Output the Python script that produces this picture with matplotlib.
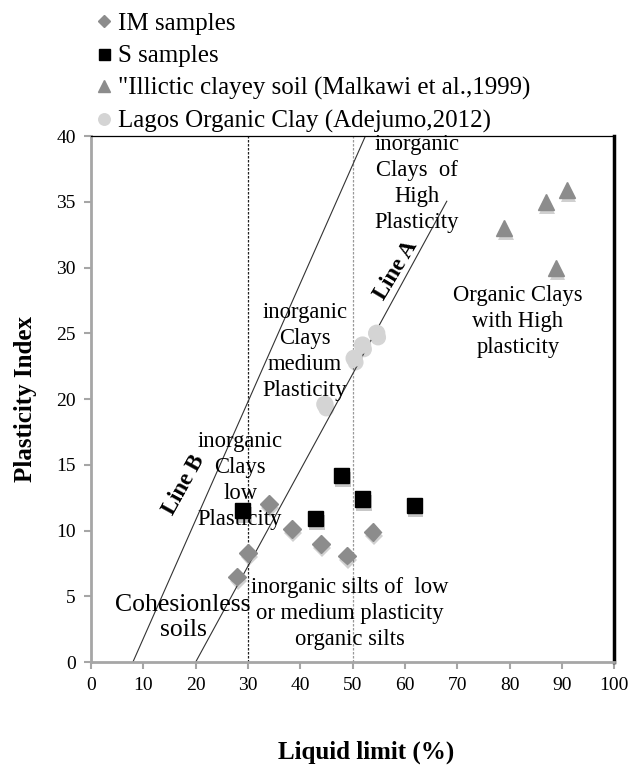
import numpy as np
import matplotlib
matplotlib.use("Agg")
import matplotlib.pyplot as plt
import matplotlib.patheffects as pe
from matplotlib.lines import Line2D

plt.rcParams['font.family'] = ['Liberation Serif', 'DejaVu Serif']

# data
im_ll = [34, 38.4, 30, 27.9, 43.9, 48.9, 53.8]
im_pi = [12.0, 10.1, 8.3, 6.5, 9.0, 8.1, 9.9]

s_ll = [29, 42.9, 47.9, 51.9, 61.8]
s_pi = [11.5, 10.9, 14.2, 12.4, 11.9]

malk_ll = [91, 86.9, 79, 88.9]
malk_pi = [35.9, 35.0, 33.0, 30.0]

lagos_ll = [54.6, 51.9, 50.3, 44.7]
lagos_pi = [25.0, 24.1, 23.1, 19.6]

series_names = ['IM samples', 'S samples',
                '"Illictic clayey soil (Malkawi et al.,1999)',
                'Lagos Organic Clay (Adejumo,2012)']

# chart lines (A-line and U-line style)
lineA_ll = [20, 68]
lineB_ll = [8, 52.4]
lineA_slope = 0.73
lineB_slope = 0.9

xticks = list(range(0, 101, 10))
yticks = list(range(0, 41, 5))

fig = plt.figure(figsize=(6.28, 7.65), dpi=100)
ax = fig.add_axes([0.145, 0.1346, 0.833, 0.6876])

shadow = [pe.SimplePatchShadow(offset=(1, -3), alpha=0.22), pe.Normal()]

# boundary lines
ax.plot([30, 30], [0, 40], color='#222222', lw=0.9, ls=(0, (2, 1.2)), zorder=1)
ax.plot([50, 50], [0, 40], color='#999999', lw=0.9, ls=(0, (2, 1.2)), zorder=1)
a_x = np.array(lineA_ll)
b_x = np.array(lineB_ll)
ax.plot(a_x, lineA_slope * (a_x - 20), color='#333333', lw=0.8, zorder=2)
ax.plot(b_x, lineB_slope * (b_x - 8), color='#333333', lw=0.8, zorder=2)

# samples
styles = [('D', '#8c8c8c', 9), ('s', 'black', 11), ('^', '#8c8c8c', 11.5), ('o', '#d4d4d4', 11.5)]
xs = [im_ll, s_ll, malk_ll, lagos_ll]
ys = [im_pi, s_pi, malk_pi, lagos_pi]
handles = []
for (m, c, size), x, y, name in zip(styles, xs, ys, series_names):
    ax.plot(x, y, m, ls='none', color=c, ms=size, path_effects=shadow,
            zorder=3 if m == 'o' else 4)
    handles.append(Line2D([], [], marker=m, ls='none', color=c, ms=size * 0.72, label=name))

# region labels
fs = 16.3
lsp = 1.3
ax.text(62.3, 36.4, 'inorganic\nClays  of\nHigh\nPlasticity', ha='center', va='center',
        fontsize=fs, linespacing=lsp)
ax.text(40.9, 23.6, 'inorganic\nClays\nmedium\nPlasticity', ha='center', va='center',
        fontsize=fs, linespacing=lsp)
ax.text(28.5, 13.8, 'inorganic\nClays\nlow\nPlasticity', ha='center', va='center',
        fontsize=fs, linespacing=lsp)
ax.text(17.6, 3.4, 'Cohesionless\nsoils', ha='center', va='center', fontsize=18.5,
        linespacing=1.2)
ax.text(49.5, 3.7, 'inorganic silts of  low\nor medium plasticity\norganic silts',
        ha='center', va='center', fontsize=fs, linespacing=lsp)
ax.text(81.6, 25.9, 'Organic Clays\nwith High\nplasticity', ha='center', va='center',
        fontsize=fs, linespacing=lsp)
ax.text(58.4, 29.8, 'Line A', ha='center', va='center', fontsize=16.5, fontweight='bold',
        rotation=59)
ax.text(17.8, 13.5, 'Line B', ha='center', va='center', fontsize=16.5, fontweight='bold',
        rotation=61)

ax.set_xlim(0, 100)
ax.set_ylim(0, 40)
ax.set_xticks(xticks)
ax.set_yticks(yticks)
ax.tick_params(axis='both', direction='out', length=5, width=1.5, color='#a6a6a6',
               labelsize=14, pad=6)

for side in ['left', 'bottom']:
    ax.spines[side].set_color('#a6a6a6')
    ax.spines[side].set_linewidth(2)
ax.spines['top'].set_color('black')
ax.spines['top'].set_linewidth(0.9)
ax.spines['right'].set_color('black')
ax.spines['right'].set_linewidth(2.5)

ax.set_xlabel('Liquid limit (%)', fontsize=18, fontweight='bold')
ax.xaxis.label.set_va('center')
ax.xaxis.set_label_coords(0.525, -0.171)
ax.set_ylabel('Plasticity Index', fontsize=18, fontweight='bold', labelpad=14)

fig.legend(handles=handles, loc='upper left', bbox_to_anchor=(0.138, 0.997), frameon=False,
           fontsize=18, handlelength=0.6, handletextpad=0.25, labelspacing=0.4,
           borderaxespad=0)

fig.savefig('out.png', dpi=100)
